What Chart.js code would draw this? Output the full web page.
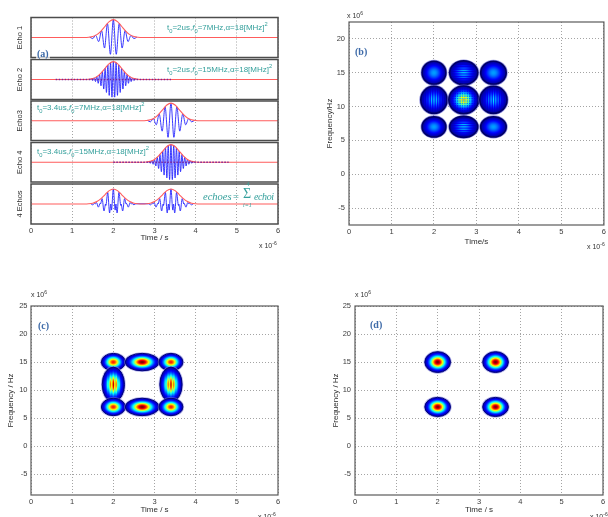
<!DOCTYPE html>
<html>
<head>
<meta charset="utf-8">
<script src="https://cdn.jsdelivr.net/npm/chart.js@4.4.1/dist/chart.umd.min.js"></script>
<style>
  html, body { margin: 0; padding: 0; background: #fff; }
  #page { position: relative; width: 608px; height: 517px; overflow: hidden; background: #fff; }
  #page canvas { position: absolute; left: 0; top: 0; }
  .t { position: absolute; white-space: nowrap; line-height: 1; font-family: "Liberation Sans", Arial, sans-serif; }
  .t sub, .t sup { font-size: 72%; line-height: 0; }
  .teal { color: #35a09c; font-size: 8px; }
  .tag { color: #3d6aa8; font: bold 10px "Liberation Serif", serif; }
  .mult { color: #333; font-size: 7px; }
  .math { color: #35a09c; font-family: "Liberation Serif", serif; font-style: italic; }
</style>
</head>
<body>
<div id="page"></div>
<script>
// ---------- axis ticks ----------
const timeTicks = [0, 1, 2, 3, 4, 5, 6];        // time, x 1e-6 s
const freqTicks = [-5, 0, 5, 10, 15, 20, 25];   // frequency, x 1e6 Hz

// ---------- (a) the four echoes and their sum ----------
const echoLabels = ['Echo 1', 'Echo 2', 'Echo3', 'Echo 4', '4 Echos'];
const echoT0 = [2.0, 2.0, 3.4, 3.4];            // centre time, us
const echoF0 = [7, 15, 7, 15];                  // centre frequency, MHz
const echoResidual = [null, [0.6, 3.4], null, [2.0, 4.8]];  // low-level trace along the baseline, us
const sumT0 = [2.0, 3.4];

// Gaussian envelope: offset from t0 (us) and relative amplitude
const envOffsets = [-0.7, -0.6, -0.5, -0.4, -0.3, -0.2, -0.1, 0, 0.1, 0.2, 0.3, 0.4, 0.5, 0.6, 0.7];
const envValues  = [0.004, 0.016, 0.056, 0.16, 0.36, 0.63, 0.89, 1, 0.89, 0.63, 0.36, 0.16, 0.056, 0.016, 0.004];

// 7 MHz echo: successive peaks and troughs
const tone7Offsets = [-0.571, -0.5, -0.429, -0.357, -0.286, -0.214, -0.143, -0.071, 0, 0.071, 0.143, 0.214, 0.286, 0.357, 0.429, 0.5, 0.571];
const tone7Values  = [0.02, -0.06, 0.12, -0.23, 0.39, -0.59, 0.79, -0.94, 1, -0.94, 0.79, -0.59, 0.39, -0.23, 0.12, -0.06, 0.02];

// 15 MHz echo: successive peaks and troughs
const tone15Offsets = [-0.567, -0.533, -0.5, -0.467, -0.433, -0.4, -0.367, -0.333, -0.3, -0.267, -0.233, -0.2, -0.167, -0.133, -0.1, -0.067, -0.033, 0,
                       0.033, 0.067, 0.1, 0.133, 0.167, 0.2, 0.233, 0.267, 0.3, 0.333, 0.367, 0.4, 0.433, 0.467, 0.5, 0.533, 0.567];
const tone15Values  = [-0.025, 0.038, -0.056, 0.082, -0.115, 0.159, -0.213, 0.279, -0.355, 0.44, -0.535, 0.63, -0.727, 0.815, -0.89, 0.95, -0.987, 1,
                       -0.987, 0.95, -0.89, 0.815, -0.727, 0.63, -0.535, 0.44, -0.355, 0.279, -0.213, 0.159, -0.115, 0.082, -0.056, 0.038, -0.025];

// 7 MHz + 15 MHz echo pair (normalised sum)
const sumOffsets = [-0.545, -0.5, -0.455, -0.4375, -0.409, -0.364, -0.318, -0.3125, -0.273, -0.227, -0.1875, -0.182, -0.136, -0.091, -0.0625, -0.045, 0,
                    0.045, 0.0625, 0.091, 0.136, 0.182, 0.1875, 0.227, 0.273, 0.3125, 0.318, 0.364, 0.409, 0.4375, 0.455, 0.5, 0.545];
const sumValues  = [0.014, -0.056, 0.039, 0, 0.096, -0.209, 0.044, 0, 0.357, -0.464, 0, -0.097, 0.774, -0.595, 0, -0.405, 1,
                    -0.405, 0, -0.595, 0.774, -0.097, 0, -0.464, 0.357, 0, 0.044, -0.209, 0.096, 0, 0.039, -0.056, 0.014];

// ---------- (b) Wigner-Ville distribution: auto terms and cross terms ----------
const wvdTime    = [2.0, 2.7, 3.4, 2.0, 2.7, 3.4, 2.0, 2.7, 3.4];     // us
const wvdFreq    = [15, 15, 15, 11, 11, 11, 7, 7, 7];                 // MHz
const wvdLevel   = [0.28, 0.36, 0.28, 0.36, 0.7, 0.36, 0.28, 0.36, 0.28];
const wvdSpreadT = [0.28, 0.33, 0.3, 0.31, 0.35, 0.32, 0.28, 0.33, 0.3];
const wvdSpreadF = [1.7, 1.75, 1.7, 2.0, 2.05, 2.0, 1.5, 1.55, 1.5];
const wvdFringe  = ['', 'h', '', 'v', 'x', 'v', '', 'h', ''];

// ---------- (c) smoothed distribution ----------
const spwTime    = [2.0, 2.7, 3.4, 2.0, 3.4, 2.0, 2.7, 3.4];
const spwFreq    = [15, 15, 15, 11, 11, 7, 7, 7];
const spwLevel   = [0.85, 1.0, 0.85, 0.95, 0.95, 0.85, 1.0, 0.85];
const spwSpreadT = [0.29, 0.41, 0.29, 0.27, 0.27, 0.29, 0.41, 0.29];
const spwSpreadF = [1.55, 1.55, 1.55, 3.1, 3.1, 1.55, 1.55, 1.55];
const spwFringe  = ['', '', '', 'v', 'v', '', '', ''];

// ---------- (d) cross-term free distribution ----------
const cleanTime    = [2.0, 3.4, 2.0, 3.4];
const cleanFreq    = [15, 15, 7, 7];
const cleanLevel   = [1, 1, 1, 1];
const cleanSpreadT = [0.31, 0.31, 0.31, 0.31];
const cleanSpreadF = [1.85, 1.85, 1.7, 1.7];

// ================= drawing =================
const W = 608, H = 517;
const FONT = '"Liberation Sans", Arial, sans-serif';
const GRID = '#a4a4a4', TICK = '#3c3c3c', TITLE = '#2e2e2e';
const tickFont = { family: FONT, size: 7.5 };
const titleFont = { family: FONT, size: 8 };
Chart.defaults.font.family = FONT;

const page = document.getElementById('page');
function newCtx() {
  const c = document.createElement('canvas');
  c.width = W; c.height = H;
  page.appendChild(c);
  return c.getContext('2d');
}

// plot-area padding for a box [l, t, r, b] with fixed axis sizes
function padFor(l, t, r, b, yW, xH) {
  return { left: l - yW, top: t, right: W - r, bottom: H - b - xH };
}

// box drawn around every plot area
const framePlugin = {
  id: 'frame',
  afterDraw(chart, args, opts) {
    const { ctx, chartArea: a } = chart;
    ctx.save();
    ctx.strokeStyle = opts.color || '#4a4a4a';
    ctx.lineWidth = opts.width || 1;
    ctx.strokeRect(a.left, a.top, a.right - a.left, a.bottom - a.top);
    ctx.restore();
  }
};

function jet(v) {
  const c = x => Math.round(255 * Math.max(0, Math.min(1, x)));
  return 'rgb(' + c(1.5 - Math.abs(4 * v - 3)) + ',' + c(1.5 - Math.abs(4 * v - 2)) + ',' + c(1.5 - Math.abs(4 * v - 1)) + ')';
}
function jetGradient(ctx, peak, floor) {
  const g = ctx.createRadialGradient(0, 0, 0, 0, 0, 1);
  const k = Math.log(peak / floor);
  for (let i = 0; i <= 24; i++) {
    const s = i / 24;
    g.addColorStop(s, jet(peak * Math.exp(-k * s * s)));
  }
  return g;
}
function drawBlob(ctx, cx, cy, rx, ry, peak, fringe, look) {
  ctx.save();
  ctx.beginPath();
  ctx.ellipse(cx, cy, rx + look.halo, ry + look.halo, 0, 0, 2 * Math.PI);
  ctx.fillStyle = look.haloColor;
  ctx.fill();
  ctx.translate(cx, cy);
  ctx.scale(rx, ry);
  ctx.beginPath();
  ctx.arc(0, 0, 1, 0, 2 * Math.PI);
  ctx.fillStyle = jetGradient(ctx, fringe ? peak * look.fringeBase : peak, look.floor);
  ctx.fill();
  if (fringe) {
    ctx.clip();
    ctx.fillStyle = jetGradient(ctx, peak, look.floor);
    const n = 12, st = look.fringeStep, w = look.fringeWidth;
    for (let k = -n; k <= n; k++) {
      if (fringe === 'h' || fringe === 'x') ctx.fillRect(-1, (k * st - w / 2) / ry, 2, w / ry);
      if (fringe === 'v' || fringe === 'x') ctx.fillRect((k * st - w / 2) / rx, -1, w / rx, 2);
    }
  }
  ctx.restore();
  ctx.save();
  ctx.beginPath();
  ctx.ellipse(cx, cy, rx, ry, 0, 0, 2 * Math.PI);
  ctx.strokeStyle = look.edge;
  ctx.lineWidth = look.edgeWidth;
  ctx.stroke();
  ctx.restore();
}

// time-frequency cells, centred on the scatter points, spread given in axis units
const blobPlugin = {
  id: 'tfBlobs',
  afterDatasetsDraw(chart, args, opts) {
    const { ctx, chartArea: a } = chart;
    const xs = chart.scales.x, ys = chart.scales.y;
    ctx.save();
    ctx.beginPath();
    ctx.rect(a.left, a.top, a.right - a.left, a.bottom - a.top);
    ctx.clip();
    chart.data.datasets.forEach((ds, di) => {
      const meta = chart.getDatasetMeta(di);
      meta.data.forEach((el, i) => {
        const p = ds.data[i];
        const rx = Math.abs(xs.getPixelForValue(p.x + p.st) - el.x);
        const ry = Math.abs(ys.getPixelForValue(p.y + p.sf) - el.y);
        drawBlob(ctx, el.x, el.y, rx, ry, p.level, p.fringe, opts);
      });
    });
    ctx.restore();
  }
};

function timeAxis(showLabels, title, xH, titlePad) {
  return {
    type: 'linear', min: 0, max: 6,
    afterBuildTicks: s => { s.ticks = timeTicks.map(v => ({ value: v })); },
    afterFit: s => { s.height = xH; },
    grid: { color: GRID, lineWidth: 1, drawTicks: false },
    border: { display: false, dash: [1, 2] },
    ticks: { display: showLabels, padding: 2, font: tickFont, color: TICK, maxRotation: 0, callback: v => String(v) },
    title: { display: !!title, text: title || '', font: titleFont, color: TITLE, padding: { top: 0, bottom: titlePad || 0 } }
  };
}
function freqAxis(min, max, yW, title, tickPad) {
  return {
    type: 'linear', min, max,
    afterBuildTicks: s => { s.ticks = freqTicks.filter(v => v >= min && v <= max).map(v => ({ value: v })); },
    afterFit: s => { s.width = yW; },
    grid: { color: GRID, lineWidth: 1, drawTicks: false },
    border: { display: false, dash: [1, 2] },
    ticks: { padding: tickPad, font: tickFont, color: TICK, callback: v => String(v) },
    title: { display: true, text: title, font: titleFont, color: TITLE, padding: { top: 6.2, bottom: 0 } }
  };
}

function makeChart(type, datasets, scales, padding, plugins, pluginOpts) {
  return new Chart(newCtx(), {
    type,
    data: { datasets },
    options: {
      responsive: false, animation: false, events: [],
      layout: { padding },
      elements: { point: { radius: 0 } },
      plugins: Object.assign({ legend: { display: false }, tooltip: { enabled: false } }, pluginOpts),
      scales
    },
    plugins
  });
}

function shift(offsets, values, t0) {
  return offsets.map((d, i) => ({ x: Math.round((t0 + d) * 10000) / 10000, y: values[i] }));
}
function envelopeSeries(centres) {
  const pts = [{ x: 0, y: 0 }];
  centres.forEach(c => pts.push(...shift(envOffsets, envValues, c)));
  pts.push({ x: 6, y: 0 });
  return pts;
}

// ---------- panel (a) ----------
const echoBoxes = [[17.5, 57.5], [59.5, 99.5], [101, 140.5], [142.5, 182], [184, 224]];
const echoLimits = [1.12, 1.12, 1.12, 1.12, 1.33];

echoLabels.forEach((label, i) => {
  const last = i === echoLabels.length - 1;
  let wave;
  if (last) wave = sumT0.flatMap(c => shift(sumOffsets, sumValues, c));
  else if (echoF0[i] === 7) wave = shift(tone7Offsets, tone7Values, echoT0[i]);
  else wave = shift(tone15Offsets, tone15Values, echoT0[i]);
  const env = envelopeSeries(last ? sumT0 : [echoT0[i]]);

  const datasets = [];
  if (!last && echoResidual[i]) {
    datasets.push({ data: echoResidual[i].map(x => ({ x, y: 0 })), borderColor: 'rgba(120,30,150,0.95)', borderWidth: 1.3, borderDash: [1.5, 1.5] });
  }
  datasets.push({ data: env, borderColor: 'rgb(255,92,92)', borderWidth: 1.1, cubicInterpolationMode: 'monotone' });
  datasets.push({ data: wave, borderColor: 'rgb(35,35,255)', borderWidth: 0.9, cubicInterpolationMode: 'monotone' });

  const [top, bottom] = echoBoxes[i];
  const xH = last ? 20 : 0;
  const lim = echoLimits[i];
  makeChart('line', datasets, {
    x: timeAxis(last, last ? 'Time / s' : '', xH, 1),
    y: {
      type: 'linear', min: -lim, max: lim,
      afterFit: s => { s.width = 31; },
      ticks: { display: false }, grid: { display: false }, border: { display: false },
      title: { display: true, text: label, font: { family: FONT, size: 7.5 }, color: TITLE, padding: { top: 15.5, bottom: 0 } }
    }
  }, padFor(31, top, 278, bottom, 31, xH), [framePlugin], { frame: { color: '#4c4c4c', width: 1.5 } });
});

// ---------- panels (b), (c), (d) ----------
function cells(ts, fs, levels, sT, sF, fringes) {
  return ts.map((t, i) => ({ x: t, y: fs[i], level: levels[i], st: sT[i], sf: sF[i], fringe: fringes ? fringes[i] : '' }));
}
const lookB = { floor: 0.03, halo: 1.5, haloColor: 'rgba(110,110,215,0.75)', edge: '#000066', edgeWidth: 1.6, fringeBase: 0.5, fringeStep: 2.4, fringeWidth: 0.9 };
const lookC = { floor: 0.04, halo: 1.2, haloColor: 'rgba(130,130,220,0.6)', edge: '#00007a', edgeWidth: 1, fringeBase: 0.72, fringeStep: 3, fringeWidth: 1.3 };

makeChart('scatter', [{ data: cells(wvdTime, wvdFreq, wvdLevel, wvdSpreadT, wvdSpreadF, wvdFringe) }], {
  x: timeAxis(true, 'Time/s', 22, 0.5),
  y: freqAxis(-7.5, 22.5, 30, 'Frequency/Hz', 4)
}, padFor(349, 22, 607, 225, 30, 22), [blobPlugin, framePlugin], { tfBlobs: lookB, frame: { color: '#5a5a5a', width: 1.2 } });

makeChart('scatter', [{ data: cells(spwTime, spwFreq, spwLevel, spwSpreadT, spwSpreadF, spwFringe) }], {
  x: timeAxis(true, 'Time / s', 20, 0.2),
  y: freqAxis(-8.7, 25, 31, 'Frequency / Hz', 3.5)
}, padFor(31, 306, 278, 495, 31, 20), [blobPlugin, framePlugin], { tfBlobs: lookC, frame: { color: '#5a5a5a', width: 1.2 } });

makeChart('scatter', [{ data: cells(cleanTime, cleanFreq, cleanLevel, cleanSpreadT, cleanSpreadF, null) }], {
  x: timeAxis(true, 'Time / s', 20, 0.2),
  y: freqAxis(-8.7, 25, 30, 'Frequency / Hz', 4)
}, padFor(355, 306, 603, 495, 30, 20), [blobPlugin, framePlugin], { tfBlobs: lookC, frame: { color: '#5a5a5a', width: 1.2 } });

// ---------- text annotations ----------
function note(x, y, cls, html, style) {
  const d = document.createElement('div');
  d.className = 't ' + cls;
  d.style.left = x + 'px';
  d.style.top = y + 'px';
  d.innerHTML = html;
  if (style) Object.assign(d.style, style);
  page.appendChild(d);
}
note(167, 23.5, 'teal', 't<sub>0</sub>=2us,<i>f</i><sub>0</sub>=7MHz,α=18[MHz]<sup>2</sup>');
note(167, 65.5, 'teal', 't<sub>0</sub>=2us,<i>f</i><sub>0</sub>=15MHz,α=18[MHz]<sup>2</sup>');
note(37, 103.5, 'teal', 't<sub>0</sub>=3.4us,<i>f</i><sub>0</sub>=7MHz,α=18[MHz]<sup>2</sup>');
note(37, 147.5, 'teal', 't<sub>0</sub>=3.4us,<i>f</i><sub>0</sub>=15MHz,α=18[MHz]<sup>2</sup>');
note(203, 192, 'math', 'echoes', { fontSize: '10.5px' });
note(233, 192, 'math', '=', { fontSize: '10.5px', fontStyle: 'normal' });
note(243, 187, 'math', 'Σ', { fontSize: '14px', fontStyle: 'normal' });
note(246.5, 181, 'math', '4', { fontSize: '6px', fontStyle: 'normal' });
note(243, 202, 'math', 'i=1', { fontSize: '6px' });
note(254, 192, 'math', 'echoi', { fontSize: '10px', letterSpacing: '-0.4px' });

note(36, 48, 'tag', '(a)', { background: 'rgba(255,255,255,0.7)', padding: '0 1px' });
note(355, 46, 'tag', '(b)');
note(38, 320, 'tag', '(c)');
note(370, 319, 'tag', '(d)');

note(259, 241.5, 'mult', 'x 10<sup>-6</sup>');
note(587, 242.5, 'mult', 'x 10<sup>-6</sup>');
note(258, 512.5, 'mult', 'x 10<sup>-6</sup>');
note(590, 512.5, 'mult', 'x 10<sup>-6</sup>');
note(347, 11.5, 'mult', 'x 10<sup>6</sup>');
note(31, 290.5, 'mult', 'x 10<sup>6</sup>');
note(355, 290.5, 'mult', 'x 10<sup>6</sup>');
</script>
</body>
</html>
